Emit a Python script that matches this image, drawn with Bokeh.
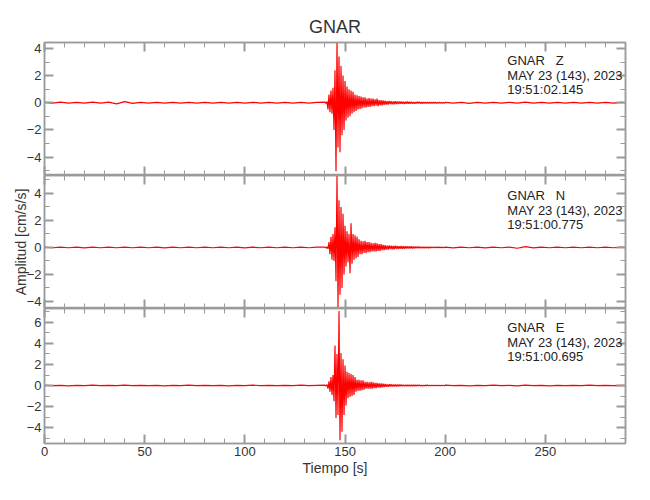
import numpy as np
from bokeh.plotting import figure
from bokeh.layouts import column
from bokeh.models import Range1d, LinearAxis, SingleIntervalTicker, Label
from bokeh.embed import file_html
from bokeh.resources import INLINE

# ---------------- data ----------------
STATION = "GNAR"
components = ["Z", "N", "E"]
date_text = "MAY 23 (143), 2023"
start_times = ["19:51:02.145", "19:51:00.775", "19:51:00.695"]
x_label = "Tiempo [s]"
y_label = "Amplitud [cm/s/s]"
x_max = 290

# segment start times and sample steps (s)
pre_start, pre_step = 0.0, 4.0
evt_start, evt_step = 140.0, 0.5
tail_start, tail_step = 170.0, 0.5
post_start, post_step = 200.0, 4.0

# --- Z component (cm/s/s) ---
z_pre = [0.03, -0.03, 0.04, -0.03, 0.03, -0.03, 0.04, -0.03, 0.05, -0.08, 0.08, -0.04,
         0.03, -0.03, 0.03, -0.03, 0.03, -0.03, 0.03, -0.03, 0.03, -0.03, 0.03, -0.03,
         0.03, -0.03, 0.03, -0.03, 0.03, -0.03, 0.03, -0.03, 0.03, -0.03, 0.03]
z_evt = [0.04, -0.05, 0.10, -0.50, 0.60, -0.70, 0.90, -0.80, 1.10, -2.00,
         2.40, -5.05, 4.45, -3.30, 3.40, -3.65, 2.70, -2.40, 2.00, -2.00,
         1.60, -1.30, 1.20, -1.10, 1.00, -1.00, 0.90, -0.80, 0.80, -0.70,
         0.60, -0.60, 0.55, -0.50, 0.50, -0.45, 0.45, -0.40, 0.40, -0.35,
         0.40, -0.35, 0.30, -0.30, 0.35, -0.30, 0.30, -0.25, 0.30, -0.25,
         0.25, -0.20, 0.30, -0.25, 0.20, -0.20, 0.20, -0.20, 0.18, -0.15]
z_tail = [0.15, -0.13, 0.12, -0.14, 0.13, -0.10, 0.12, -0.12, 0.10, -0.11,
          0.12, -0.09, 0.10, -0.10, 0.09, -0.08, 0.10, -0.08, 0.08, -0.09,
          0.08, -0.07, 0.09, -0.07, 0.07, -0.07, 0.08, -0.06, 0.06, -0.07,
          0.06, -0.06, 0.07, -0.05, 0.06, -0.05, 0.05, -0.06, 0.05, -0.05,
          0.05, -0.04, 0.05, -0.05, 0.04, -0.04, 0.05, -0.04, 0.04, -0.04,
          0.04, -0.04, 0.03, -0.04, 0.04, -0.03, 0.03, -0.03, 0.03, -0.03]
z_post = [0.03, -0.03, 0.03, -0.04, 0.03, -0.03, 0.03, -0.03, 0.03, -0.03, 0.04, -0.03,
          0.03, -0.03, 0.03, -0.03, 0.03, -0.03, 0.03, -0.03, 0.03, -0.03, 0.03, -0.03]

# --- N component ---
n_pre = [0.02, -0.02, 0.03, -0.02, 0.02, -0.03, 0.02, -0.02, 0.03, -0.02, 0.02, -0.02,
         0.03, -0.02, 0.02, -0.03, 0.02, -0.02, 0.02, -0.02, 0.03, -0.02, 0.02, -0.02,
         0.02, -0.03, 0.02, -0.02, 0.02, -0.02, 0.03, -0.02, 0.02, -0.02, 0.02]
n_evt = [0.03, -0.04, 0.05, -0.10, 0.40, -0.50, 0.80, -0.90, 1.00, -1.00,
         1.50, -2.50, 5.30, -4.40, 3.50, -3.50, 3.00, -3.00, 2.50, -2.00,
         1.60, -1.40, 1.20, -1.10, 1.00, -1.90, 1.80, -1.20, 1.00, -0.90,
         0.90, -0.80, 0.80, -0.70, 0.60, -0.50, 0.50, -0.50, 0.45, -0.40,
         0.50, -0.40, 0.40, -0.35, 0.40, -0.35, 0.35, -0.30, 0.30, -0.30,
         0.35, -0.30, 0.30, -0.25, 0.25, -0.25, 0.25, -0.20, 0.20, -0.20]
n_tail = [0.18, -0.15, 0.14, -0.16, 0.15, -0.12, 0.14, -0.13, 0.12, -0.13,
          0.13, -0.10, 0.12, -0.11, 0.10, -0.10, 0.11, -0.09, 0.09, -0.10,
          0.09, -0.08, 0.09, -0.08, 0.08, -0.07, 0.08, -0.07, 0.07, -0.07,
          0.06, -0.06, 0.07, -0.05, 0.06, -0.05, 0.05, -0.06, 0.05, -0.05,
          0.05, -0.04, 0.04, -0.05, 0.04, -0.04, 0.04, -0.03, 0.04, -0.03,
          0.03, -0.03, 0.03, -0.03, 0.03, -0.03, 0.03, -0.02, 0.02, -0.02]
n_post = [0.03, -0.03, 0.03, -0.02, 0.03, -0.03, 0.02, -0.02, 0.03, -0.06, 0.06, -0.03,
          0.02, -0.02, 0.03, -0.02, 0.02, -0.02, 0.02, -0.02, 0.02, -0.02, 0.02, -0.02]

# --- E component ---
e_pre = [0.02, -0.02, 0.02, -0.03, 0.02, -0.02, 0.03, -0.02, 0.02, -0.02, 0.03, -0.02,
         0.02, -0.02, 0.02, -0.03, 0.02, -0.02, 0.03, -0.02, 0.02, -0.02, 0.02, -0.03,
         0.02, -0.02, 0.03, -0.02, 0.02, -0.02, 0.02, -0.02, 0.03, -0.02, 0.02]
e_evt = [0.03, -0.04, 0.08, -0.30, 0.40, -0.60, 0.80, -0.90, 1.00, -1.50,
         3.80, -3.10, 3.00, -2.80, 7.10, -5.20, 3.10, -4.40, 2.50, -2.80,
         1.90, -1.90, 1.30, -1.20, 1.20, -1.10, 1.10, -1.00, 1.00, -0.90,
         0.80, -0.60, 0.55, -0.50, 0.55, -0.50, 0.50, -0.45, 0.50, -0.40,
         0.35, -0.30, 0.35, -0.30, 0.30, -0.30, 0.35, -0.30, 0.30, -0.25,
         0.25, -0.25, 0.25, -0.20, 0.20, -0.20, 0.20, -0.18, 0.18, -0.15]
e_tail = [0.14, -0.12, 0.11, -0.13, 0.12, -0.09, 0.11, -0.10, 0.09, -0.10,
          0.10, -0.08, 0.09, -0.09, 0.08, -0.07, 0.08, -0.07, 0.07, -0.07,
          0.07, -0.06, 0.07, -0.06, 0.06, -0.06, 0.06, -0.05, 0.05, -0.05,
          0.05, -0.05, 0.05, -0.04, 0.05, -0.04, 0.04, -0.04, 0.04, -0.04,
          0.04, -0.03, 0.04, -0.03, 0.03, -0.03, 0.03, -0.03, 0.03, -0.03,
          0.03, -0.02, 0.03, -0.02, 0.02, -0.02, 0.02, -0.02, 0.02, -0.02]
e_post = [0.03, -0.02, 0.02, -0.03, 0.02, -0.02, 0.03, -0.02, 0.02, -0.04, 0.04, -0.02,
          0.02, -0.03, 0.02, -0.02, 0.02, -0.02, 0.03, -0.02, 0.02, -0.02, 0.02, -0.02]

y_ranges = [(-5.36, 4.44), (-4.52, 5.33), (-5.52, 7.33)]
label_y = [(3.11, 2.01, 0.98), (3.85, 2.74, 1.70), (5.52, 4.09, 2.76)]
label_x = 231

traces = [(z_pre, z_evt, z_tail, z_post),
          (n_pre, n_evt, n_tail, n_post),
          (e_pre, e_evt, e_tail, e_post)]

# ---------------- styling ----------------
FONT = "Liberation Sans"
AXC = "#9a9a9a"
TXT = "#333333"
RED = "#ff0000"
NBSP = "\u00a0"


def build_series(segs):
    starts = [pre_start, evt_start, tail_start, post_start]
    steps = [pre_step, evt_step, tail_step, post_step]
    t, a = [], []
    for seg, s0, ds in zip(segs, starts, steps):
        t.extend(s0 + ds * np.arange(len(seg)))
        a.extend(seg)
    return np.array(t), np.array(a)


def style_axis(ax, ticker, labels):
    ax.ticker = ticker
    ax.axis_line_color = AXC
    ax.axis_line_width = 1.5
    ax.major_tick_line_color = AXC
    ax.major_tick_line_width = 2
    ax.minor_tick_line_color = AXC
    ax.minor_tick_line_width = 1
    ax.major_tick_in = 9
    ax.major_tick_out = 0
    ax.minor_tick_in = 5
    ax.minor_tick_out = 0
    if labels:
        ax.major_label_text_font = FONT
        ax.major_label_text_font_size = "13px"
        ax.major_label_text_color = TXT
        ax.major_label_standoff = 3
    else:
        ax.major_label_text_font_size = "0px"
        ax.major_label_text_color = None
        ax.major_label_standoff = 0


x_range = Range1d(0, x_max)
figs = []
frame_heights = [133, 133, 135]
for i in range(3):
    top = i == 0
    bottom = i == 2
    p = figure(width=642, frame_width=581, frame_height=frame_heights[i],
               x_range=x_range, y_range=Range1d(*y_ranges[i]),
               output_backend="svg", toolbar_location=None, tools="",
               min_border=0, min_border_left=44, min_border_right=17,
               min_border_top=42 if top else 0,
               min_border_bottom=40 if bottom else 0,
               background_fill_color="white", border_fill_color="white")
    p.grid.visible = False
    p.outline_line_color = AXC
    p.outline_line_width = 1.5

    xb = p.below[0]
    yl = p.left[0]
    style_axis(xb, SingleIntervalTicker(interval=50, num_minor_ticks=5), bottom)
    style_axis(yl, SingleIntervalTicker(interval=2, num_minor_ticks=2), True)
    ax_top = LinearAxis()
    style_axis(ax_top, SingleIntervalTicker(interval=50, num_minor_ticks=5), False)
    p.add_layout(ax_top, "above")
    ax_right = LinearAxis()
    style_axis(ax_right, SingleIntervalTicker(interval=2, num_minor_ticks=2), False)
    p.add_layout(ax_right, "right")

    if bottom:
        xb.axis_label = x_label
        xb.axis_label_text_font = FONT
        xb.axis_label_text_font_size = "14px"
        xb.axis_label_text_font_style = "normal"
        xb.axis_label_text_color = TXT
        xb.axis_label_standoff = 1
    if i == 1:
        yl.axis_label = y_label
        yl.axis_label_text_font = FONT
        yl.axis_label_text_font_size = "14px"
        yl.axis_label_text_font_style = "normal"
        yl.axis_label_text_color = TXT
        yl.axis_label_standoff = -5
    if top:
        p.title.text = STATION
        p.title.align = "center"
        p.title.text_font = FONT
        p.title.text_font_size = "18px"
        p.title.text_font_style = "normal"
        p.title.text_color = TXT
        p.title.standoff = 12

    t, a = build_series(traces[i])
    p.line(t, a, line_color=RED, line_width=1.2)

    lines = [f"{STATION}{NBSP * 3}{components[i]}", date_text, start_times[i]]
    for txt, yy in zip(lines, label_y[i]):
        p.add_layout(Label(x=label_x, y=yy, text=txt, text_font=FONT,
                           text_font_size="13px", text_color="#222222",
                           text_baseline="middle", text_align="left"))
    figs.append(p)

layout = column(*figs, spacing=0)
open("out.html", "w").write(file_html(layout, INLINE))
